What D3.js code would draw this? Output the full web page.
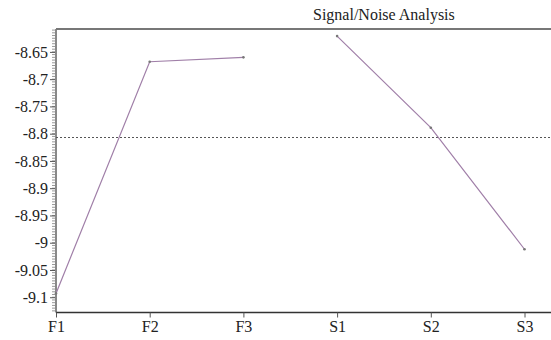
<!DOCTYPE html>
<html><head><meta charset="utf-8">
<script src="https://cdn.jsdelivr.net/npm/d3@7"></script>
<style>body{margin:0;background:#fff}svg{display:block}</style>
</head><body>
<script>
const categories = ["F1","F2","F3","S1","S2","S3"];
const groups = [["F1","F2","F3"],["S1","S2","S3"]];
const values = [-9.093,-8.668,-8.660,-8.621,-8.789,-9.012];
const yTicks = [-8.65,-8.7,-8.75,-8.8,-8.85,-8.9,-8.95,-9,-9.05,-9.1];
const meanValue = -8.807;
const title = "Signal/Noise Analysis";

(function(){
const W=551,H=340;
const svg=d3.select("body").append("svg").attr("width",W).attr("height",H);
const mL=56,mR=551,mT=29,mB=312.5;
const x=d3.scalePoint().domain(categories).range([mL,524.5]);
const y=d3.scaleLinear().domain([-9.128,-8.608]).range([mB,mT]);
const font="'Liberation Serif','Times New Roman',serif";

// minor ticks
const minor=d3.range(-9.125,-8.6079,0.005);
svg.append("g").selectAll("line").data(minor).join("line")
 .attr("x1",mL-4).attr("x2",mL).attr("y1",d=>y(d)).attr("y2",d=>y(d))
 .attr("stroke","#999").attr("stroke-width",1);
// y axis
const ya=svg.append("g").attr("transform",`translate(${mL},0)`)
 .call(d3.axisLeft(y).tickValues(yTicks).tickFormat(d=>String(d)).tickSize(6).tickPadding(2));
ya.select(".domain").remove();
ya.selectAll(".tick line").attr("stroke","#555");
ya.selectAll("text").attr("font-family",font).attr("font-size",16).attr("fill","#222");
svg.append("line").attr("x1",mL).attr("x2",mL).attr("y1",mT).attr("y2",mB)
 .attr("stroke","#888").attr("stroke-width",2);
// top border
svg.append("line").attr("x1",mL).attr("x2",mR).attr("y1",mT).attr("y2",mT)
 .attr("stroke","#777").attr("stroke-width",2);
// x axis
const xa=svg.append("g").attr("transform",`translate(0,${mB})`)
 .call(d3.axisBottom(x).tickSize(5).tickPadding(3));
xa.select(".domain").attr("d",`M${mL},0H${mR}`).attr("stroke","#333").attr("stroke-width",1.5);
xa.selectAll(".tick line").attr("stroke","#555");
xa.selectAll("text").attr("font-family",font).attr("font-size",16).attr("fill","#222");

// mean line
svg.append("line").attr("x1",mL).attr("x2",mR).attr("y1",y(meanValue)).attr("y2",y(meanValue))
 .attr("stroke","#555").attr("stroke-width",1.2).attr("stroke-dasharray","2,2");

// series
const lookup=new Map(categories.map((c,i)=>[c,values[i]]));
const line=d3.line().x(d=>x(d)).y(d=>y(lookup.get(d)));
groups.forEach(g=>{
 svg.append("path").attr("d",line(g)).attr("fill","none")
  .attr("stroke","#a07fa8").attr("stroke-width",1.2);
});
svg.append("g").selectAll("circle").data(categories).join("circle")
 .attr("cx",d=>x(d)).attr("cy",d=>y(lookup.get(d))).attr("r",1.3).attr("fill","#777");

// title
svg.append("text").attr("x",313).attr("y",20).attr("font-family",font).attr("font-size",16)
 .attr("fill","#222").text(title);
})();
</script>
</body></html>
